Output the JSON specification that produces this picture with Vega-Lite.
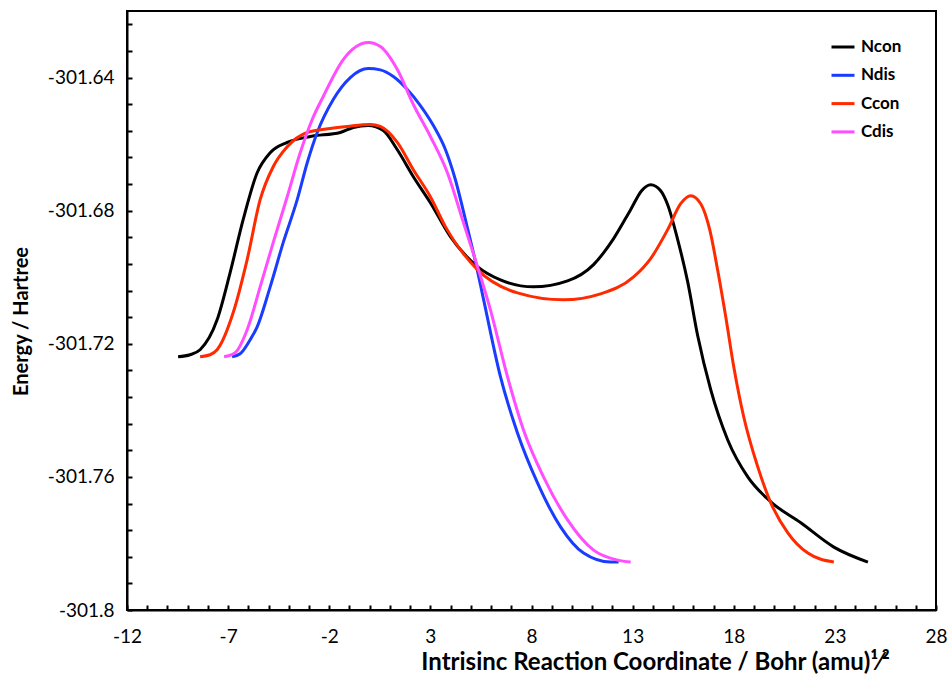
{
  "$schema": "https://vega.github.io/schema/vega-lite/v6.json",
  "width": 809,
  "height": 599,
  "autosize": {"type": "none"},
  "padding": {"left": 127, "top": 11, "right": 11, "bottom": 65},
  "background": "white",
  "config": {
    "view": {"stroke": "black", "strokeWidth": 2},
    "font": "Lato",
    "axis": {
      "grid": false,
      "zindex": 1,
      "domainColor": "black",
      "domainWidth": 2,
      "tickColor": "black",
      "tickWidth": 2,
      "tickSize": 5,
      "labelFont": "Lato",
      "labelFontSize": 19,
      "labelColor": "black",
      "labelOverlap": false,
      "labelFlush": false,
      "labelBound": false,
      "titleFont": "Lato",
      "titleFontWeight": "bold",
      "titleColor": "black"
    }
  },
  "data": {
    "values": [
      {"series": "Ncon", "x": -9.475, "y": -301.7239},
      {"series": "Ncon", "x": -8.881, "y": -301.7233},
      {"series": "Ncon", "x": -8.386, "y": -301.7218},
      {"series": "Ncon", "x": -7.545, "y": -301.7128},
      {"series": "Ncon", "x": -6.901, "y": -301.6986},
      {"series": "Ncon", "x": -6.257, "y": -301.6827},
      {"series": "Ncon", "x": -5.564, "y": -301.6686},
      {"series": "Ncon", "x": -4.921, "y": -301.6626},
      {"series": "Ncon", "x": -4.079, "y": -301.6595},
      {"series": "Ncon", "x": -2.941, "y": -301.6577},
      {"series": "Ncon", "x": -1.455, "y": -301.6565},
      {"series": "Ncon", "x": -0.812, "y": -301.655},
      {"series": "Ncon", "x": -0.069, "y": -301.6544},
      {"series": "Ncon", "x": 0.673, "y": -301.6559},
      {"series": "Ncon", "x": 1.366, "y": -301.6617},
      {"series": "Ncon", "x": 2.158, "y": -301.6698},
      {"series": "Ncon", "x": 3.0, "y": -301.6776},
      {"series": "Ncon", "x": 3.99, "y": -301.6878},
      {"series": "Ncon", "x": 5.327, "y": -301.6968},
      {"series": "Ncon", "x": 6.465, "y": -301.7008},
      {"series": "Ncon", "x": 8.099, "y": -301.7029},
      {"series": "Ncon", "x": 9.782, "y": -301.7011},
      {"series": "Ncon", "x": 11.069, "y": -301.6962},
      {"series": "Ncon", "x": 12.059, "y": -301.6884},
      {"series": "Ncon", "x": 12.901, "y": -301.6797},
      {"series": "Ncon", "x": 13.446, "y": -301.674},
      {"series": "Ncon", "x": 13.891, "y": -301.6722},
      {"series": "Ncon", "x": 14.386, "y": -301.674},
      {"series": "Ncon", "x": 14.733, "y": -301.6782},
      {"series": "Ncon", "x": 15.228, "y": -301.6887},
      {"series": "Ncon", "x": 15.723, "y": -301.7014},
      {"series": "Ncon", "x": 16.218, "y": -301.7176},
      {"series": "Ncon", "x": 16.861, "y": -301.7338},
      {"series": "Ncon", "x": 17.703, "y": -301.7489},
      {"series": "Ncon", "x": 18.693, "y": -301.76},
      {"series": "Ncon", "x": 19.832, "y": -301.7675},
      {"series": "Ncon", "x": 21.317, "y": -301.7738},
      {"series": "Ncon", "x": 22.95, "y": -301.7811},
      {"series": "Ncon", "x": 24.634, "y": -301.7856},

      {"series": "Ndis", "x": -6.802, "y": -301.7239},
      {"series": "Ndis", "x": -6.406, "y": -301.723},
      {"series": "Ndis", "x": -5.911, "y": -301.7188},
      {"series": "Ndis", "x": -5.564, "y": -301.7149},
      {"series": "Ndis", "x": -4.921, "y": -301.7029},
      {"series": "Ndis", "x": -4.277, "y": -301.6896},
      {"series": "Ndis", "x": -3.584, "y": -301.6767},
      {"series": "Ndis", "x": -3.089, "y": -301.6656},
      {"series": "Ndis", "x": -2.594, "y": -301.6565},
      {"series": "Ndis", "x": -1.802, "y": -301.6466},
      {"series": "Ndis", "x": -0.96, "y": -301.64},
      {"series": "Ndis", "x": -0.069, "y": -301.6373},
      {"series": "Ndis", "x": 0.525, "y": -301.6377},
      {"series": "Ndis", "x": 1.168, "y": -301.6397},
      {"series": "Ndis", "x": 1.861, "y": -301.6436},
      {"series": "Ndis", "x": 2.505, "y": -301.6484},
      {"series": "Ndis", "x": 3.149, "y": -301.6544},
      {"series": "Ndis", "x": 3.743, "y": -301.6616},
      {"series": "Ndis", "x": 4.238, "y": -301.6707},
      {"series": "Ndis", "x": 4.733, "y": -301.6827},
      {"series": "Ndis", "x": 5.228, "y": -301.6953},
      {"series": "Ndis", "x": 5.624, "y": -301.7065},
      {"series": "Ndis", "x": 6.465, "y": -301.7299},
      {"series": "Ndis", "x": 7.307, "y": -301.7468},
      {"series": "Ndis", "x": 8.297, "y": -301.7618},
      {"series": "Ndis", "x": 9.436, "y": -301.775},
      {"series": "Ndis", "x": 10.574, "y": -301.7829},
      {"series": "Ndis", "x": 11.911, "y": -301.7856},
      {"series": "Ndis", "x": 12.307, "y": -301.7856},

      {"series": "Ccon", "x": -8.386, "y": -301.7239},
      {"series": "Ccon", "x": -7.891, "y": -301.7233},
      {"series": "Ccon", "x": -7.545, "y": -301.7218},
      {"series": "Ccon", "x": -6.752, "y": -301.7107},
      {"series": "Ccon", "x": -6.059, "y": -301.6947},
      {"series": "Ccon", "x": -5.416, "y": -301.6767},
      {"series": "Ccon", "x": -4.772, "y": -301.6668},
      {"series": "Ccon", "x": -4.079, "y": -301.6608},
      {"series": "Ccon", "x": -3.089, "y": -301.6565},
      {"series": "Ccon", "x": -1.95, "y": -301.6553},
      {"series": "Ccon", "x": -1.109, "y": -301.6547},
      {"series": "Ccon", "x": 0.03, "y": -301.6541},
      {"series": "Ccon", "x": 0.525, "y": -301.6547},
      {"series": "Ccon", "x": 1.366, "y": -301.6595},
      {"series": "Ccon", "x": 2.158, "y": -301.6677},
      {"series": "Ccon", "x": 3.0, "y": -301.6758},
      {"series": "Ccon", "x": 3.743, "y": -301.6848},
      {"series": "Ccon", "x": 5.327, "y": -301.6977},
      {"series": "Ccon", "x": 7.307, "y": -301.7047},
      {"series": "Ccon", "x": 9.584, "y": -301.7068},
      {"series": "Ccon", "x": 11.416, "y": -301.705},
      {"series": "Ccon", "x": 13.05, "y": -301.6999},
      {"series": "Ccon", "x": 13.891, "y": -301.6944},
      {"series": "Ccon", "x": 14.733, "y": -301.6857},
      {"series": "Ccon", "x": 15.376, "y": -301.6779},
      {"series": "Ccon", "x": 15.871, "y": -301.6755},
      {"series": "Ccon", "x": 16.366, "y": -301.6779},
      {"series": "Ccon", "x": 16.812, "y": -301.6857},
      {"series": "Ccon", "x": 17.208, "y": -301.698},
      {"series": "Ccon", "x": 17.604, "y": -301.7119},
      {"series": "Ccon", "x": 18.0, "y": -301.7269},
      {"series": "Ccon", "x": 18.495, "y": -301.742},
      {"series": "Ccon", "x": 19.188, "y": -301.757},
      {"series": "Ccon", "x": 19.832, "y": -301.7678},
      {"series": "Ccon", "x": 20.673, "y": -301.7768},
      {"series": "Ccon", "x": 21.663, "y": -301.7829},
      {"series": "Ccon", "x": 22.95, "y": -301.7856},

      {"series": "Cdis", "x": -7.198, "y": -301.7239},
      {"series": "Cdis", "x": -6.653, "y": -301.7227},
      {"series": "Cdis", "x": -6.059, "y": -301.7158},
      {"series": "Cdis", "x": -5.416, "y": -301.7029},
      {"series": "Cdis", "x": -4.772, "y": -301.6896},
      {"series": "Cdis", "x": -4.079, "y": -301.6758},
      {"series": "Cdis", "x": -3.436, "y": -301.6626},
      {"series": "Cdis", "x": -2.842, "y": -301.6526},
      {"series": "Cdis", "x": -2.297, "y": -301.6457},
      {"series": "Cdis", "x": -1.307, "y": -301.6346},
      {"series": "Cdis", "x": -0.069, "y": -301.6295},
      {"series": "Cdis", "x": 0.525, "y": -301.6307},
      {"series": "Cdis", "x": 1.366, "y": -301.6376},
      {"series": "Cdis", "x": 2.158, "y": -301.6481},
      {"series": "Cdis", "x": 3.0, "y": -301.6577},
      {"series": "Cdis", "x": 3.842, "y": -301.6686},
      {"series": "Cdis", "x": 4.634, "y": -301.6836},
      {"series": "Cdis", "x": 5.376, "y": -301.6977},
      {"series": "Cdis", "x": 5.97, "y": -301.7098},
      {"series": "Cdis", "x": 6.812, "y": -301.7299},
      {"series": "Cdis", "x": 7.604, "y": -301.7459},
      {"series": "Cdis", "x": 8.594, "y": -301.76},
      {"series": "Cdis", "x": 9.782, "y": -301.7729},
      {"series": "Cdis", "x": 11.069, "y": -301.782},
      {"series": "Cdis", "x": 12.257, "y": -301.785},
      {"series": "Cdis", "x": 12.901, "y": -301.7856}
    ]
  },
  "resolve": {"axis": {"x": "independent", "y": "independent"}},
  "layer": [
    {
      "mark": {"type": "line", "interpolate": "monotone", "strokeWidth": 3, "clip": true},
      "encoding": {
        "x": {
          "field": "x",
          "type": "quantitative",
          "scale": {"domain": [-12, 28], "nice": false, "zero": false},
          "axis": {
            "orient": "bottom",
            "ticks": false,
            "title": "Intrisinc Reaction Coordinate / Bohr (amu)\u00b9\u2044\u00b2",
            "titleX": 528,
            "titleFontSize": 24,
            "titlePadding": 4,
            "labelPadding": 17,
            "values": [-12, -7, -2, 3, 8, 13, 18, 23, 28],
            "labelExpr": "toString(datum.value)"
          }
        },
        "y": {
          "field": "y",
          "type": "quantitative",
          "scale": {"domain": [-301.8, -301.62], "nice": false, "zero": false},
          "axis": {
            "orient": "left",
            "ticks": false,
            "title": "Energy / Hartree",
            "titleFontSize": 20,
            "titleY": 310,
            "titlePadding": 16,
            "labelPadding": 13,
            "values": [-301.8, -301.76, -301.72, -301.68, -301.64],
            "labelExpr": "toString(datum.value)"
          }
        },
        "color": {
          "field": "series",
          "type": "nominal",
          "scale": {"domain": ["Ncon", "Ndis", "Ccon", "Cdis"], "range": ["#000000", "#1a3cff", "#ff2a00", "#ff4dff"]},
          "legend": {
            "title": null,
            "orient": "none",
            "legendX": 703,
            "legendY": 23,
            "symbolType": "stroke",
            "symbolSize": 529,
            "symbolStrokeWidth": 3,
            "labelFont": "Lato",
            "labelFontSize": 17,
            "labelFontWeight": "bold",
            "labelColor": "black",
            "labelOffset": 5,
            "rowPadding": 7.3,
            "padding": 0
          }
        }
      }
    },
    {
      "mark": {"type": "point", "opacity": 0},
      "encoding": {
        "x": {
          "field": "x",
          "type": "quantitative",
          "axis": {
            "orient": "bottom",
            "offset": -5,
            "domain": false,
            "labels": false,
            "title": null,
            "ticks": true,
            "tickSize": 5,
            "values": [-12,-11,-10,-9,-8,-7,-6,-5,-4,-3,-2,-1,0,1,2,3,4,5,6,7,8,9,10,11,12,13,14,15,16,17,18,19,20,21,22,23,24,25,26,27,28]
          }
        },
        "y": {
          "field": "y",
          "type": "quantitative",
          "axis": {
            "orient": "left",
            "offset": -5,
            "domain": false,
            "labels": false,
            "title": null,
            "ticks": true,
            "tickSize": 5,
            "values": [-301.8,-301.792,-301.784,-301.776,-301.768,-301.76,-301.752,-301.744,-301.736,-301.728,-301.72,-301.712,-301.704,-301.696,-301.688,-301.68,-301.672,-301.664,-301.656,-301.648,-301.64,-301.632,-301.624]
          }
        }
      }
    }
  ]
}
